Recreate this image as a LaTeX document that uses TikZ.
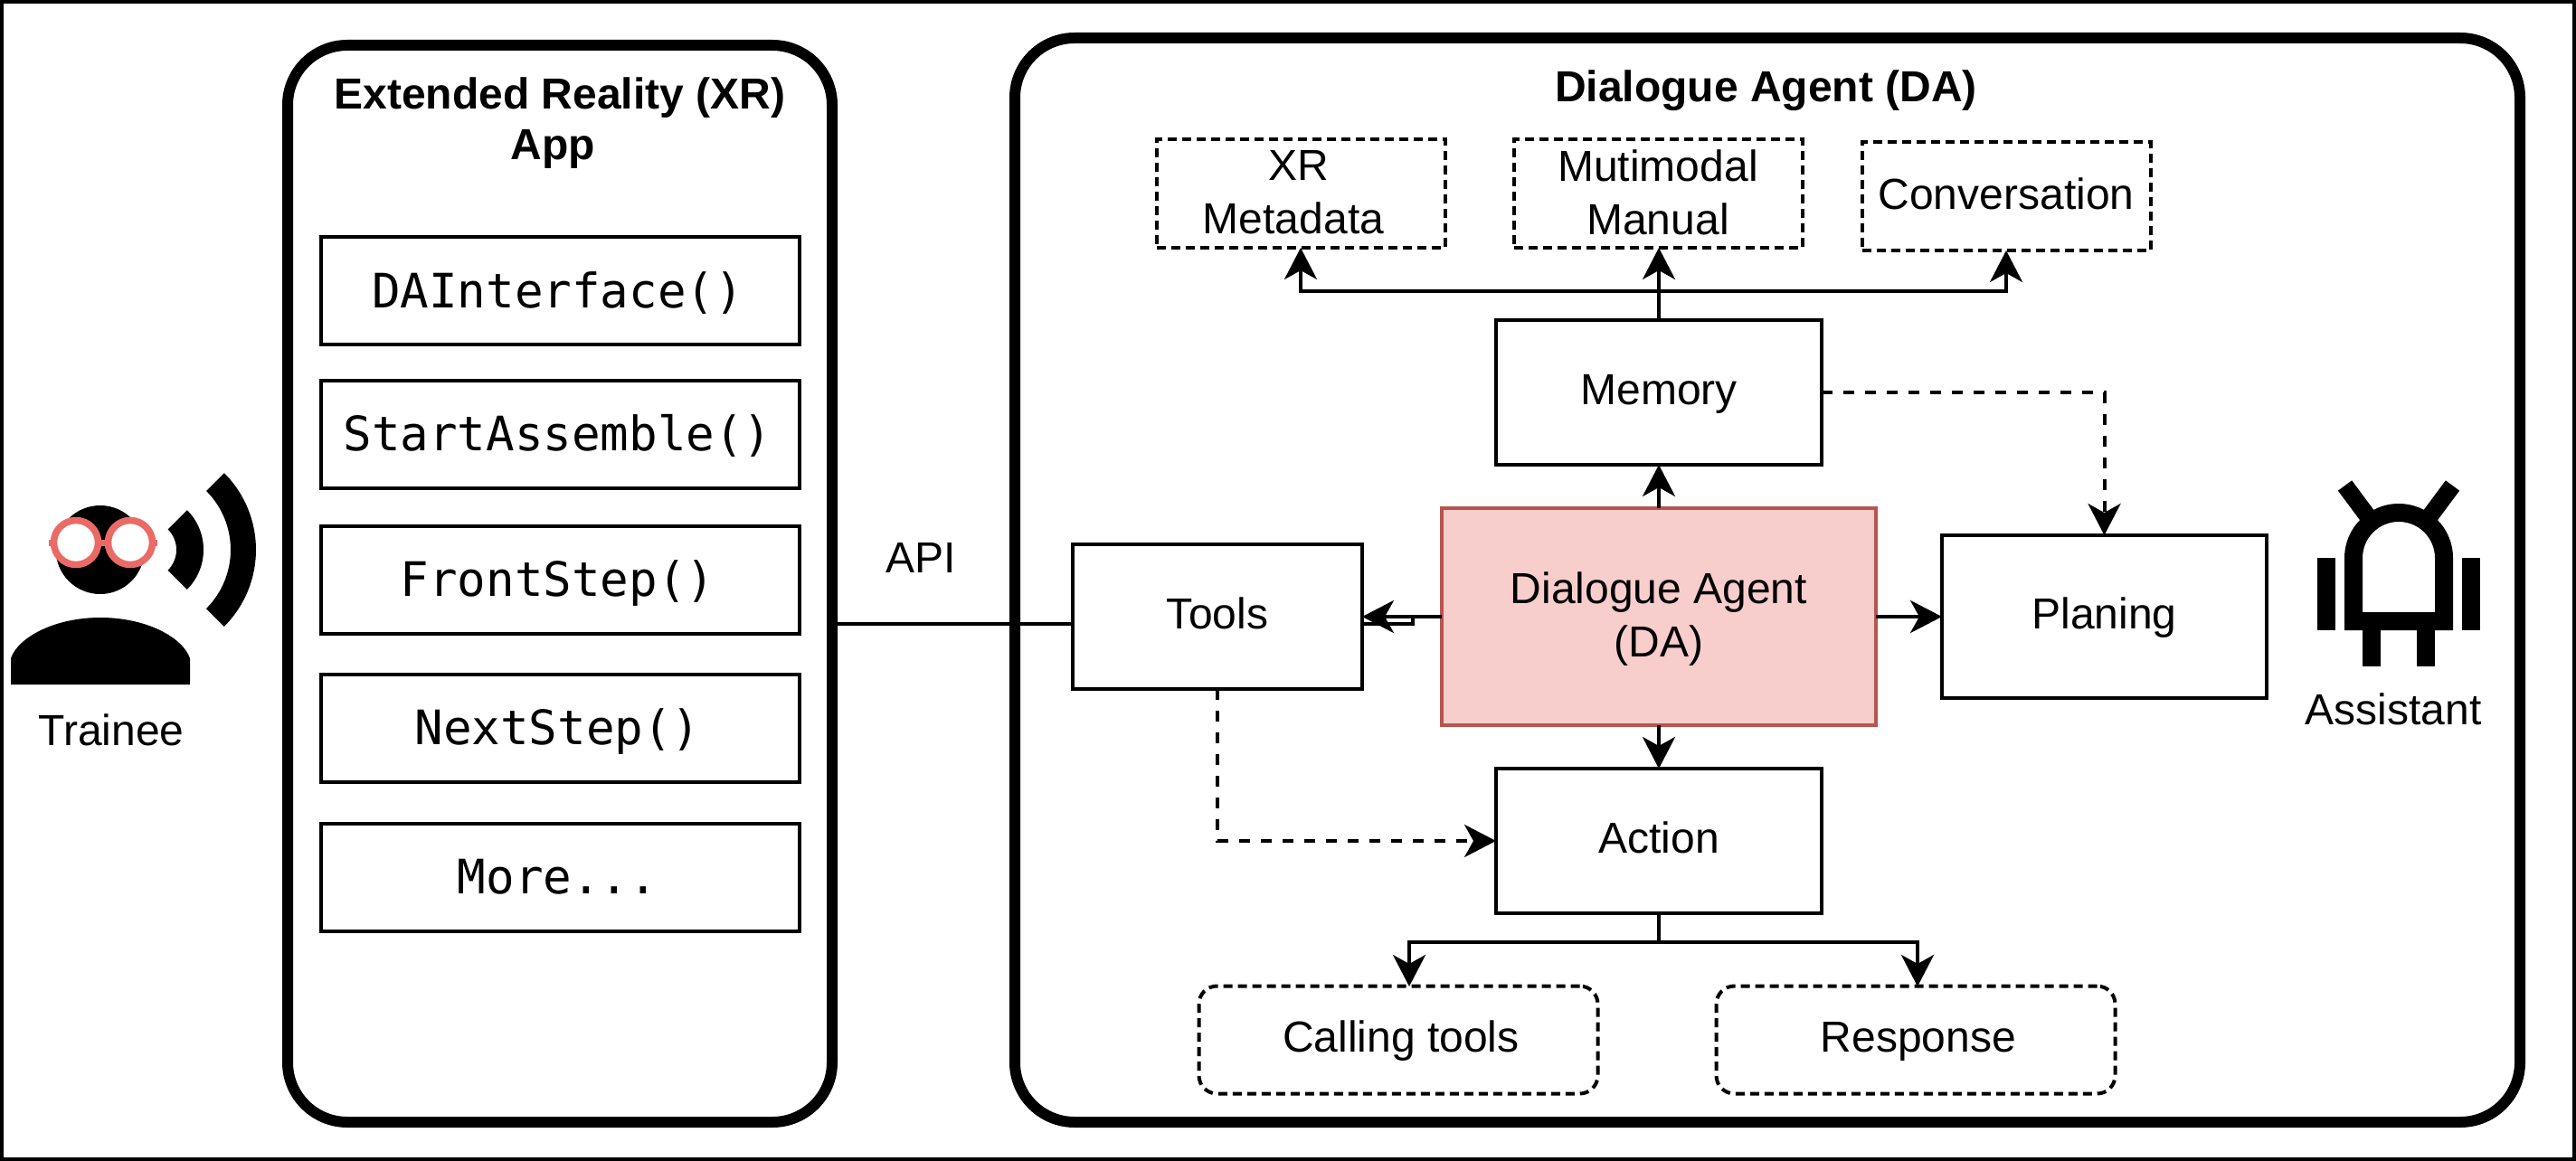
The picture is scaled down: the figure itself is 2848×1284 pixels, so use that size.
\documentclass[tikz,border=0pt]{standalone}
\usepackage{fontspec}
\setmainfont{Liberation Sans}
\setmonofont{DejaVu Sans Mono}
\usetikzlibrary{arrows.meta,calc}
\tikzset{
 x=1pt,y=-1pt,
 every node/.style={inner sep=0pt,outer sep=0pt},
 lbl/.style={font=\fontsize{48}{59}\selectfont,align=center},
 one/.style={lbl,text height=34pt,text depth=7pt},
 ttl/.style={font=\fontsize{48}{56}\selectfont\bfseries,align=center},
 frame/.style={draw=black,line width=12pt,rounded corners=66pt},
 pbox/.style={draw=black,line width=4pt,minimum width=#1,minimum height=160pt,one},
 pbox/.default=360pt,
 fnbox/.style={draw=black,line width=4pt,minimum width=529pt,minimum height=119pt,text height=48pt,text depth=11pt,font=\fontsize{52.5}{60}\selectfont\ttfamily,execute at end node={\hspace*{6pt}}},
 dbox/.style={draw=black,line width=4pt,dash pattern=on 10pt off 6pt,minimum width=319pt,minimum height=120pt,one},
 rbox/.style={dbox,rounded corners=20pt,minimum width=441pt,minimum height=119pt,execute at begin node={\hspace*{6pt}}},
 conn/.style={draw=black,line width=4pt},
 tipped/.style={conn,-{Stealth[length=35pt,width=36pt,inset=10pt]}},
 dconn/.style={tipped,dash pattern=on 12pt off 12pt},
}
\definecolor{dafill}{HTML}{F8CECC}
\definecolor{daline}{HTML}{B85450}
\definecolor{glass}{HTML}{EA6B66}
\begin{document}
\begin{tikzpicture}
\useasboundingbox (0,0) rectangle (2848,1284);
\fill[white] (0,0) rectangle (2848,1284);
\draw[black,line width=4pt] (2,2) rectangle (2846,1282);
% frames
\draw[frame] (318,50) rectangle (920,1241);
\draw[frame] (1122,42) rectangle (2786,1241);
\node[ttl] (xrttl) at (619,136) {Extended Reality (XR)\\App\hspace*{16pt}};
\node[ttl] (dattl) at (1952.5,100) {Dialogue Agent (DA)};
% XR functions
\node[fnbox] (f1) at (619.5,321.5) {DAInterface()};
\node[fnbox] (f2) at (619.5,480) {StartAssemble()};
\node[fnbox] (f3) at (619.5,641) {FrontStep()};
\node[fnbox] (f4) at (619.5,805) {NextStep()};
\node[fnbox] (f5) at (619.5,970) {More...};
% main boxes
\node[pbox=360pt] (mem) at (1834,434) {Memory};
\node[pbox=360pt] (act) at (1834,930) {Action};
\node[pbox=320pt] (tools) at (1346,682) {Tools};
\node[pbox=359pt,minimum height=180pt] (plan) at (2326.5,682) {Planing};
\node[draw=daline,fill=dafill,line width=4pt,minimum width=480pt,minimum height=240pt,label={[lbl,yshift=-3pt]center:{Dialogue Agent\\(DA)}}] (da) at (1834,682) {};
\node[dbox,label={[lbl,yshift=1pt]center:{XR\hspace*{4pt}\\Metadata\hspace*{16pt}}}] (xrm) at (1438,214) {};
\node[dbox,label={[lbl,yshift=1pt]center:{Mutimodal\\Manual}}] (mm) at (1833,214) {};
\node[dbox,text depth=5pt] (conv) at (2218,217) {Conversation};
\node[rbox] (call) at (1546,1150) {Calling tools};
\node[rbox] (resp) at (2118,1150) {Response};
% connectors
\coordinate (memup) at (1834,322);
\coordinate (actdn) at (1834,1042);
\coordinate (apix) at (920,690);
\coordinate (calltop) at (1558,1091);
\coordinate (resptop) at (2120,1091);
\draw[tipped] (mem.north) -- (mem.north |- mm.south);
\draw[tipped] (memup) -| (xrm.south);
\draw[tipped] (memup) -| (conv.south);
\draw[tipped] (da.north) -- (mem.south);
\draw[tipped] (da.south) -- (act.north);
\draw[tipped] (da.east) -- (plan.west);
\draw[tipped] (da.west) -- (tools.east);
\draw[conn] (apix) -- (tools.west |- apix);
\draw[conn] (tools.east |- apix) -- (1562,690) -- (1562,682);
\draw[dconn] (mem.east) -| (plan.north);
\draw[dconn] (tools.south) |- (act.west);
\draw[conn] (act.south) -- (actdn);
\draw[tipped] (actdn) -| (calltop);
\draw[tipped] (actdn) -| (resptop);
\node[one] (api) at (1018,620) {API};
% trainee
\fill[black] (110.7,608) circle[radius=49];
\fill[black] (12,757) -- (12,728) .. controls (20,705) and (60,683) .. (111,683) .. controls (162,683) and (202,705) .. (210,728) -- (210,757) -- cycle;
\foreach \ra/\rb in {32/62,92/120}{
 \fill[black] (163,608) ++(-45:\ra) arc[start angle=-45,end angle=45,radius=\ra] -- ($(163,608)+(45:\rb)$) arc[start angle=45,end angle=-45,radius=\rb] -- cycle;
}
\draw[glass,line width=7pt] (54,600) -- (174,600);
\draw[glass,line width=7.5pt,fill=white] (84,600) circle[radius=24.5];
\draw[glass,line width=7.5pt,fill=white] (144,600) circle[radius=24.5];
\node[lbl] (trainee) at (123,807) {Trainee};
% assistant
\fill[black] (2562,617) rectangle (2582,697);
\fill[black] (2722,617) rectangle (2742,697);
\fill[black] (2612,697) rectangle (2632,737);
\fill[black] (2672,697) rectangle (2692,737);
\fill[black,even odd rule] (2592,697) -- (2592,617) arc[start angle=180,end angle=360,radius=60] -- (2712,697) -- cycle
 (2612,677) -- (2612,617) arc[start angle=180,end angle=360,radius=40] -- (2692,677) -- cycle;
\draw[black,line width=19pt] (2592.5,537) -- (2617,570);
\draw[black,line width=19pt] (2711.5,537) -- (2687,570);
\node[lbl] (assist) at (2646,784) {Assistant};
\end{tikzpicture}
\end{document}
